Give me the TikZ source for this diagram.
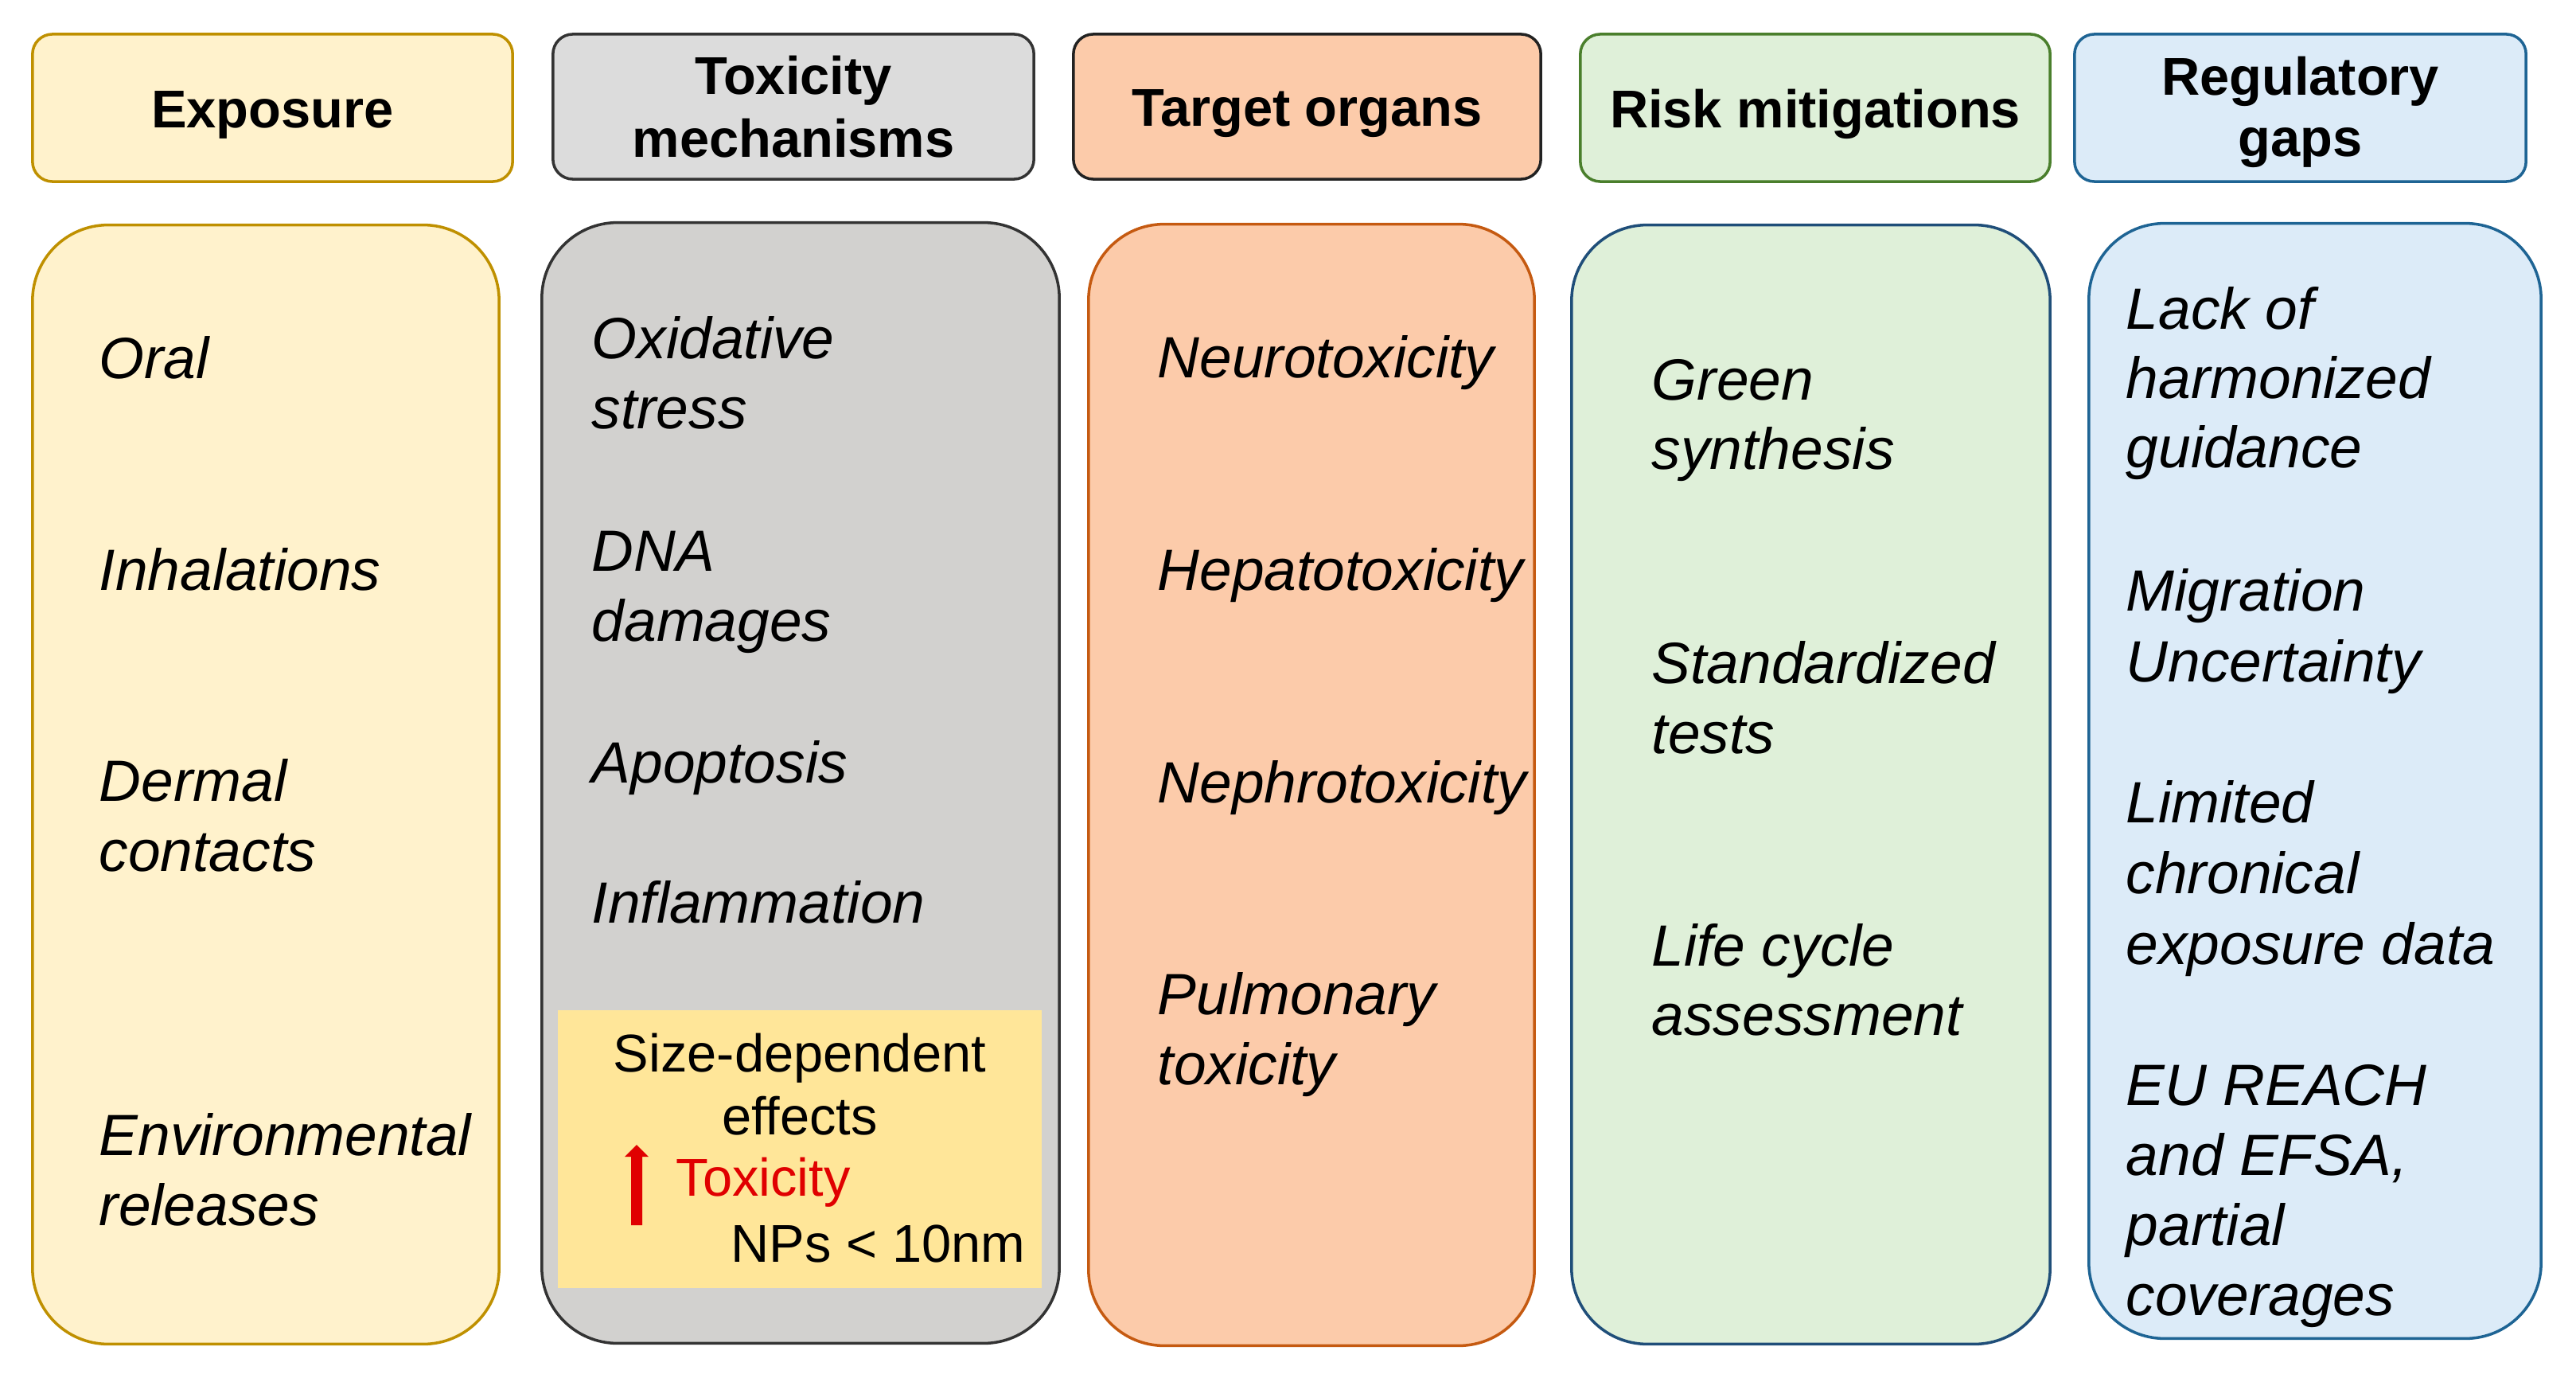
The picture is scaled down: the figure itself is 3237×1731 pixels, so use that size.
\documentclass[tikz,border=0pt]{standalone}
\usepackage{fontspec}
\setmainfont{Liberation Sans}
\definecolor{expfill}{HTML}{FFF2CC}
\definecolor{expdraw}{HTML}{BF9000}
\definecolor{toxhfill}{HTML}{DCDCDC}
\definecolor{toxbfill}{HTML}{D2D1CF}
\definecolor{toxdraw}{HTML}{333333}
\definecolor{tarfill}{HTML}{FCCBAA}
\definecolor{tarhdraw}{HTML}{222222}
\definecolor{tarbdraw}{HTML}{C55A11}
\definecolor{riskfill}{HTML}{DFF0D9}
\definecolor{riskhdraw}{HTML}{4A7F2C}
\definecolor{riskbdraw}{HTML}{1F4E79}
\definecolor{regfill}{HTML}{DCEBF8}
\definecolor{regdraw}{HTML}{1E6494}
\definecolor{sizefill}{HTML}{FFE699}
\definecolor{toxred}{HTML}{E00000}
\begin{document}
\begin{tikzpicture}[x=0.01cm,y=-0.01cm,
  hdr/.style={rectangle, rounded corners=0.25cm, line width=1pt, inner sep=0pt},
  bodybox/.style={rectangle, rounded corners=0.95cm, line width=1pt, inner sep=0pt},
  htxt/.style={font=\fontsize{19pt}{22.8pt}\selectfont\bfseries, inner sep=0pt, anchor=base},
  item/.style={font=\fontsize{20.8pt}{25pt}\selectfont\itshape, inner sep=0pt, anchor=base west},
  ytxt/.style={font=\fontsize{19pt}{22.8pt}\selectfont, inner sep=0pt, anchor=base}]
\useasboundingbox[fill=white] (0,0) rectangle (3237,1731);

% headers
\node[hdr, fill=expfill, draw=expdraw, minimum width=6.03cm, minimum height=1.85cm] (h1) at (342.5,135.5) {};
\node[hdr, fill=toxhfill, draw=toxdraw, minimum width=6.04cm, minimum height=1.82cm] (h2) at (997,134) {};
\node[hdr, fill=tarfill, draw=tarhdraw, minimum width=5.87cm, minimum height=1.82cm] (h3) at (1642.5,134) {};
\node[hdr, fill=riskfill, draw=riskhdraw, minimum width=5.90cm, minimum height=1.85cm] (h4) at (2281,135.5) {};
\node[hdr, fill=regfill, draw=regdraw, minimum width=5.67cm, minimum height=1.85cm] (h5) at (2890.5,135.5) {};

\node[htxt] (h1t) at (342.5,161) {Exposure};
\node[htxt] (h2ta) at (997,119) {Toxicity};
\node[htxt] (h2tb) at (997,198) {mechanisms};
\node[htxt] (h3t) at (1642.5,159) {Target organs};
\node[htxt] (h4t) at (2281,161) {Risk mitigations};
\node[htxt] (h5ta) at (2890.5,120) {Regulatory};
\node[htxt] (h5tb) at (2890.5,197) {gaps};

% bodies
\node[bodybox, fill=expfill, draw=expdraw, minimum width=5.86cm, minimum height=14.05cm] (b1) at (334,985.5) {};
\node[bodybox, fill=toxbfill, draw=toxdraw, minimum width=6.50cm, minimum height=14.07cm] (b2) at (1006,983.5) {};
\node[bodybox, fill=tarfill, draw=tarbdraw, minimum width=5.60cm, minimum height=14.08cm] (b3) at (1648,986) {};
\node[bodybox, fill=riskfill, draw=riskbdraw, minimum width=6.01cm, minimum height=14.05cm] (b4) at (2275.5,985.5) {};
\node[bodybox, fill=regfill, draw=regdraw, minimum width=5.68cm, minimum height=14.00cm] (b5) at (2909,981) {};

% size-dependent box
\node[rectangle, fill=sizefill, inner sep=0pt, minimum width=6.08cm, minimum height=3.49cm] (sz) at (1005,1443.5) {};
\node[ytxt] (sz1) at (1005,1346) {Size-dependent};
\node[ytxt] (sz2) at (1005,1425) {effects};
\node[ytxt, anchor=base west, text=toxred] (sz3) at (849,1502) {Toxicity};
\node[ytxt, anchor=base west] (sz4) at (918,1585) {NPs < 10nm};
\fill[toxred] (793,1539) -- (807,1539) -- (807,1453) -- (815,1453) -- (800,1438) -- (785,1453) -- (793,1453) -- cycle;

% Exposure items
\node[item] (e1) at (124,476) {Oral};
\node[item] (e2) at (124,741) {Inhalations};
\node[item] (e3a) at (124,1006) {Dermal};
\node[item] (e3b) at (124,1094) {contacts};
\node[item] (e4a) at (124,1451) {Environmental};
\node[item] (e4b) at (124,1539) {releases};

% Toxicity items
\node[item] (t1a) at (743,451) {Oxidative};
\node[item] (t1b) at (743,539) {stress};
\node[item] (t2a) at (743,717) {DNA};
\node[item] (t2b) at (743,805) {damages};
\node[item] (t3) at (743,983) {Apoptosis};
\node[item] (t4) at (743,1159) {Inflammation};

% Target items
\node[item] (o1) at (1454,475) {Neurotoxicity};
\node[item] (o2) at (1454,741) {Hepatotoxicity};
\node[item] (o3) at (1454,1008) {Nephrotoxicity};
\node[item] (o4a) at (1454,1274) {Pulmonary};
\node[item] (o4b) at (1454,1362) {toxicity};

% Risk items
\node[item] (r1a) at (2075,503) {Green};
\node[item] (r1b) at (2075,590) {synthesis};
\node[item] (r2a) at (2075,858) {Standardized};
\node[item] (r2b) at (2075,946) {tests};
\node[item] (r3a) at (2075,1213) {Life cycle};
\node[item] (r3b) at (2075,1300) {assessment};

% Regulatory items
\node[item] (g1a) at (2671,414) {Lack of};
\node[item] (g1b) at (2671,501) {harmonized};
\node[item] (g1c) at (2671,588) {guidance};
\node[item] (g2a) at (2671,767) {Migration};
\node[item] (g2b) at (2671,856) {Uncertainty};
\node[item] (g3a) at (2671,1033) {Limited};
\node[item] (g3b) at (2671,1122) {chronical};
\node[item] (g3c) at (2671,1211) {exposure data};
\node[item] (g4a) at (2671,1388) {EU REACH};
\node[item] (g4b) at (2671,1476) {and EFSA,};
\node[item] (g4c) at (2671,1564) {partial};
\node[item] (g4d) at (2671,1652) {coverages};
\end{tikzpicture}
\end{document}
